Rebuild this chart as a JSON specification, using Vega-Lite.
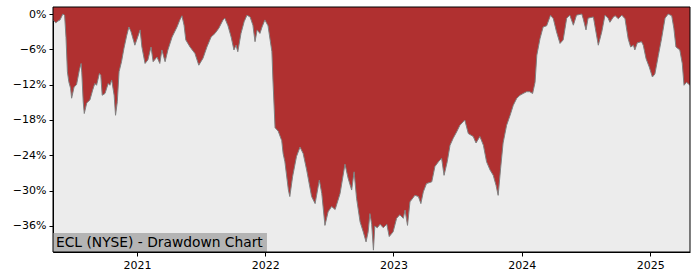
{
  "$schema": "https://vega.github.io/schema/vega-lite/v6.json",
  "width": 637,
  "height": 245,
  "autosize": "none",
  "padding": {"left": 53, "top": 7, "right": 10, "bottom": 28},
  "background": "white",
  "config": {
    "view": {"fill": "#ececec", "stroke": null},
    "axis": {"labelFont": "DejaVu Sans", "labelFontSize": 11, "labelColor": "black", "tickColor": "black", "domainColor": "black", "grid": false, "title": null, "tickSize": 4, "labelPadding": 3}
  },
  "datasets": {
    "drawdown": [
      {"date": "2020-05-07", "dd": -1.0},
      {"date": "2020-05-15", "dd": -1.5},
      {"date": "2020-05-21", "dd": -1.2},
      {"date": "2020-05-27", "dd": -1.0},
      {"date": "2020-06-04", "dd": 0},
      {"date": "2020-06-09", "dd": -0.2},
      {"date": "2020-06-13", "dd": -4.0},
      {"date": "2020-06-17", "dd": -9.8},
      {"date": "2020-06-21", "dd": -11.5},
      {"date": "2020-06-26", "dd": -12.6},
      {"date": "2020-06-29", "dd": -14.3},
      {"date": "2020-07-06", "dd": -12.4},
      {"date": "2020-07-13", "dd": -12.0},
      {"date": "2020-07-21", "dd": -9.5},
      {"date": "2020-07-26", "dd": -8.4},
      {"date": "2020-07-28", "dd": -10.0},
      {"date": "2020-08-01", "dd": -14.9},
      {"date": "2020-08-04", "dd": -16.9},
      {"date": "2020-08-11", "dd": -15.1},
      {"date": "2020-08-20", "dd": -14.6},
      {"date": "2020-08-28", "dd": -12.9},
      {"date": "2020-09-03", "dd": -11.8},
      {"date": "2020-09-08", "dd": -12.1},
      {"date": "2020-09-16", "dd": -10.1},
      {"date": "2020-09-20", "dd": -10.4},
      {"date": "2020-09-24", "dd": -13.8},
      {"date": "2020-10-02", "dd": -13.5},
      {"date": "2020-10-11", "dd": -11.8},
      {"date": "2020-10-16", "dd": -12.1},
      {"date": "2020-10-21", "dd": -11.2},
      {"date": "2020-10-28", "dd": -13.8},
      {"date": "2020-11-01", "dd": -17.2},
      {"date": "2020-11-06", "dd": -14.9},
      {"date": "2020-11-11", "dd": -9.8},
      {"date": "2020-11-18", "dd": -8.1},
      {"date": "2020-11-25", "dd": -5.8},
      {"date": "2020-12-03", "dd": -3.6},
      {"date": "2020-12-09", "dd": -2.2},
      {"date": "2020-12-15", "dd": -3.0},
      {"date": "2020-12-26", "dd": -5.3},
      {"date": "2021-01-10", "dd": -2.7},
      {"date": "2021-01-15", "dd": -5.6},
      {"date": "2021-01-24", "dd": -8.4},
      {"date": "2021-02-01", "dd": -7.8},
      {"date": "2021-02-10", "dd": -5.6},
      {"date": "2021-02-16", "dd": -8.1},
      {"date": "2021-02-27", "dd": -7.3},
      {"date": "2021-03-07", "dd": -8.4},
      {"date": "2021-03-13", "dd": -6.1},
      {"date": "2021-03-22", "dd": -8.1},
      {"date": "2021-03-30", "dd": -6.1},
      {"date": "2021-04-11", "dd": -3.9},
      {"date": "2021-04-25", "dd": -2.2},
      {"date": "2021-05-03", "dd": -1.0},
      {"date": "2021-05-09", "dd": -0.3},
      {"date": "2021-05-15", "dd": -1.9},
      {"date": "2021-05-20", "dd": -4.4},
      {"date": "2021-06-01", "dd": -5.6},
      {"date": "2021-06-15", "dd": -6.7},
      {"date": "2021-06-26", "dd": -8.7},
      {"date": "2021-07-08", "dd": -7.5},
      {"date": "2021-07-19", "dd": -5.6},
      {"date": "2021-07-31", "dd": -3.9},
      {"date": "2021-08-11", "dd": -3.3},
      {"date": "2021-08-22", "dd": -2.4},
      {"date": "2021-09-03", "dd": -1.0},
      {"date": "2021-09-08", "dd": -0.7},
      {"date": "2021-09-17", "dd": -2.0},
      {"date": "2021-09-26", "dd": -3.9},
      {"date": "2021-10-04", "dd": -6.1},
      {"date": "2021-10-10", "dd": -5.3},
      {"date": "2021-10-15", "dd": -6.4},
      {"date": "2021-10-24", "dd": -3.3},
      {"date": "2021-11-02", "dd": -1.3},
      {"date": "2021-11-10", "dd": -0.2},
      {"date": "2021-11-19", "dd": -0.5},
      {"date": "2021-11-27", "dd": -1.9},
      {"date": "2021-12-03", "dd": -4.7},
      {"date": "2021-12-09", "dd": -2.7},
      {"date": "2021-12-17", "dd": -3.3},
      {"date": "2021-12-23", "dd": -2.2},
      {"date": "2021-12-31", "dd": -1.0},
      {"date": "2022-01-09", "dd": -2.0},
      {"date": "2022-01-15", "dd": -4.4},
      {"date": "2022-01-20", "dd": -6.4},
      {"date": "2022-01-23", "dd": -11.2},
      {"date": "2022-01-29", "dd": -19.3},
      {"date": "2022-02-07", "dd": -19.9},
      {"date": "2022-02-17", "dd": -21.5},
      {"date": "2022-02-21", "dd": -23.7},
      {"date": "2022-02-26", "dd": -25.1},
      {"date": "2022-03-08", "dd": -29.9},
      {"date": "2022-03-12", "dd": -31.0},
      {"date": "2022-03-20", "dd": -27.6},
      {"date": "2022-03-31", "dd": -24.2},
      {"date": "2022-04-10", "dd": -22.6},
      {"date": "2022-04-19", "dd": -23.7},
      {"date": "2022-04-29", "dd": -26.5},
      {"date": "2022-05-13", "dd": -31.0},
      {"date": "2022-05-23", "dd": -32.2},
      {"date": "2022-06-04", "dd": -28.2},
      {"date": "2022-06-11", "dd": -30.5},
      {"date": "2022-06-20", "dd": -35.9},
      {"date": "2022-06-29", "dd": -33.6},
      {"date": "2022-07-09", "dd": -32.7},
      {"date": "2022-07-19", "dd": -33.2},
      {"date": "2022-08-02", "dd": -30.5},
      {"date": "2022-08-16", "dd": -25.5},
      {"date": "2022-08-25", "dd": -27.9},
      {"date": "2022-09-04", "dd": -29.9},
      {"date": "2022-09-11", "dd": -26.8},
      {"date": "2022-09-18", "dd": -31.3},
      {"date": "2022-09-28", "dd": -35.3},
      {"date": "2022-10-07", "dd": -37.0},
      {"date": "2022-10-15", "dd": -38.7},
      {"date": "2022-10-21", "dd": -37.0},
      {"date": "2022-10-26", "dd": -33.9},
      {"date": "2022-10-31", "dd": -35.7},
      {"date": "2022-11-05", "dd": -40.1},
      {"date": "2022-11-09", "dd": -36.0},
      {"date": "2022-11-16", "dd": -36.3},
      {"date": "2022-11-24", "dd": -35.7},
      {"date": "2022-12-03", "dd": -36.3},
      {"date": "2022-12-13", "dd": -35.7},
      {"date": "2022-12-20", "dd": -37.8},
      {"date": "2022-12-31", "dd": -37.0},
      {"date": "2023-01-10", "dd": -34.7},
      {"date": "2023-01-19", "dd": -34.1},
      {"date": "2023-01-29", "dd": -34.7},
      {"date": "2023-02-03", "dd": -33.3},
      {"date": "2023-02-10", "dd": -35.9},
      {"date": "2023-02-17", "dd": -31.9},
      {"date": "2023-03-03", "dd": -30.8},
      {"date": "2023-03-13", "dd": -31.0},
      {"date": "2023-03-20", "dd": -32.2},
      {"date": "2023-03-27", "dd": -30.2},
      {"date": "2023-04-05", "dd": -28.8},
      {"date": "2023-04-20", "dd": -28.5},
      {"date": "2023-04-29", "dd": -25.9},
      {"date": "2023-05-09", "dd": -25.1},
      {"date": "2023-05-18", "dd": -24.5},
      {"date": "2023-05-25", "dd": -27.4},
      {"date": "2023-06-03", "dd": -25.1},
      {"date": "2023-06-11", "dd": -22.3},
      {"date": "2023-06-20", "dd": -21.1},
      {"date": "2023-06-30", "dd": -20.0},
      {"date": "2023-07-09", "dd": -18.9},
      {"date": "2023-07-23", "dd": -18.0},
      {"date": "2023-08-02", "dd": -20.3},
      {"date": "2023-08-16", "dd": -20.8},
      {"date": "2023-08-24", "dd": -21.9},
      {"date": "2023-09-04", "dd": -20.8},
      {"date": "2023-09-14", "dd": -22.3},
      {"date": "2023-09-23", "dd": -25.1},
      {"date": "2023-10-03", "dd": -26.5},
      {"date": "2023-10-12", "dd": -27.4},
      {"date": "2023-10-20", "dd": -29.1},
      {"date": "2023-10-26", "dd": -30.8},
      {"date": "2023-11-02", "dd": -26.2},
      {"date": "2023-11-09", "dd": -21.9},
      {"date": "2023-11-19", "dd": -18.9},
      {"date": "2023-11-29", "dd": -17.2},
      {"date": "2023-12-08", "dd": -15.5},
      {"date": "2023-12-18", "dd": -14.3},
      {"date": "2023-12-27", "dd": -13.8},
      {"date": "2024-01-05", "dd": -13.5},
      {"date": "2024-01-15", "dd": -13.2},
      {"date": "2024-01-24", "dd": -13.2},
      {"date": "2024-02-01", "dd": -13.5},
      {"date": "2024-02-08", "dd": -11.6},
      {"date": "2024-02-13", "dd": -7.0},
      {"date": "2024-02-22", "dd": -4.2},
      {"date": "2024-03-02", "dd": -2.2},
      {"date": "2024-03-12", "dd": -2.0},
      {"date": "2024-03-23", "dd": -0.2},
      {"date": "2024-03-31", "dd": -0.8},
      {"date": "2024-04-09", "dd": -3.0},
      {"date": "2024-04-19", "dd": -5.0},
      {"date": "2024-04-28", "dd": -4.4},
      {"date": "2024-05-08", "dd": -0.7},
      {"date": "2024-05-17", "dd": -0.2},
      {"date": "2024-05-27", "dd": -1.9},
      {"date": "2024-06-05", "dd": -0.2},
      {"date": "2024-06-20", "dd": 0},
      {"date": "2024-06-24", "dd": -0.8},
      {"date": "2024-07-02", "dd": -2.7},
      {"date": "2024-07-08", "dd": -0.7},
      {"date": "2024-07-23", "dd": -0.5},
      {"date": "2024-07-27", "dd": -1.9},
      {"date": "2024-08-06", "dd": -5.3},
      {"date": "2024-08-16", "dd": -3.0},
      {"date": "2024-08-25", "dd": -0.2},
      {"date": "2024-09-03", "dd": -0.7},
      {"date": "2024-09-08", "dd": -1.4},
      {"date": "2024-09-18", "dd": -0.5},
      {"date": "2024-09-23", "dd": -0.3},
      {"date": "2024-10-02", "dd": -0.8},
      {"date": "2024-10-12", "dd": -0.2},
      {"date": "2024-10-21", "dd": -0.8},
      {"date": "2024-10-30", "dd": -4.2},
      {"date": "2024-11-06", "dd": -5.6},
      {"date": "2024-11-14", "dd": -5.3},
      {"date": "2024-11-18", "dd": -6.1},
      {"date": "2024-11-25", "dd": -4.9},
      {"date": "2024-12-07", "dd": -4.7},
      {"date": "2024-12-12", "dd": -5.3},
      {"date": "2024-12-20", "dd": -7.6},
      {"date": "2024-12-29", "dd": -9.0},
      {"date": "2025-01-07", "dd": -10.7},
      {"date": "2025-01-14", "dd": -10.2},
      {"date": "2025-01-24", "dd": -7.0},
      {"date": "2025-02-02", "dd": -4.2},
      {"date": "2025-02-12", "dd": -0.7},
      {"date": "2025-02-21", "dd": 0},
      {"date": "2025-03-03", "dd": -0.3},
      {"date": "2025-03-09", "dd": -2.4},
      {"date": "2025-03-15", "dd": -5.6},
      {"date": "2025-03-26", "dd": -6.1},
      {"date": "2025-04-02", "dd": -8.4},
      {"date": "2025-04-07", "dd": -12.1},
      {"date": "2025-04-14", "dd": -11.6},
      {"date": "2025-04-24", "dd": -12.1}
    ],
    "label": [{"text": "ECL (NYSE) - Drawdown Chart"}]
  },
  "layer": [
    {
      "data": {"name": "drawdown"},
      "mark": {"type": "area", "color": "#b03030", "interpolate": "linear"},
      "encoding": {
        "x": {
          "field": "date", "type": "temporal",
          "scale": {"domain": [{"year": 2020, "month": 5, "date": 7}, {"year": 2025, "month": 4, "date": 24}], "nice": false},
          "axis": {
            "format": "%Y",
            "values": [{"year": 2021, "month": 1, "date": 1}, {"year": 2022, "month": 1, "date": 1}, {"year": 2023, "month": 1, "date": 1}, {"year": 2024, "month": 1, "date": 1}, {"year": 2025, "month": 1, "date": 1}],
            "labelFlush": false
          }
        },
        "y": {
          "field": "dd", "type": "quantitative",
          "scale": {"domain": [-40.42, 1.19], "nice": false, "zero": false},
          "axis": {"values": [0, -6, -12, -18, -24, -30, -36], "labelExpr": "format(datum.value, 'd') + '%'"}
        },
        "y2": {"datum": 1.19}
      }
    },
    {
      "data": {"name": "drawdown"},
      "mark": {"type": "line", "color": "#808080", "strokeWidth": 1},
      "encoding": {
        "x": {"field": "date", "type": "temporal"},
        "y": {"field": "dd", "type": "quantitative"}
      }
    },
    {
      "data": {"name": "label"},
      "mark": {"type": "rect", "color": "#b4b4b4"},
      "encoding": {
        "x": {"datum": {"year": 2020, "month": 5, "date": 7}},
        "x2": {"datum": {"year": 2022, "month": 1, "date": 6}},
        "y": {"datum": -37.2},
        "y2": {"datum": -40.42}
      }
    },
    {
      "data": {"name": "label"},
      "mark": {"type": "text", "align": "left", "baseline": "middle", "dx": 3, "dy": 0.5, "font": "DejaVu Sans", "fontSize": 13.8, "fill": "black"},
      "encoding": {
        "x": {"datum": {"year": 2020, "month": 5, "date": 7}},
        "y": {"datum": -38.85},
        "text": {"field": "text"}
      }
    },
    {
      "data": {"name": "label"},
      "mark": {"type": "rect", "fill": null, "fillOpacity": 0, "stroke": "black", "strokeWidth": 1},
      "encoding": {
        "x": {"datum": {"year": 2020, "month": 5, "date": 7}},
        "x2": {"datum": {"year": 2025, "month": 4, "date": 24}},
        "y": {"datum": 1.19},
        "y2": {"datum": -40.42}
      }
    }
  ]
}
